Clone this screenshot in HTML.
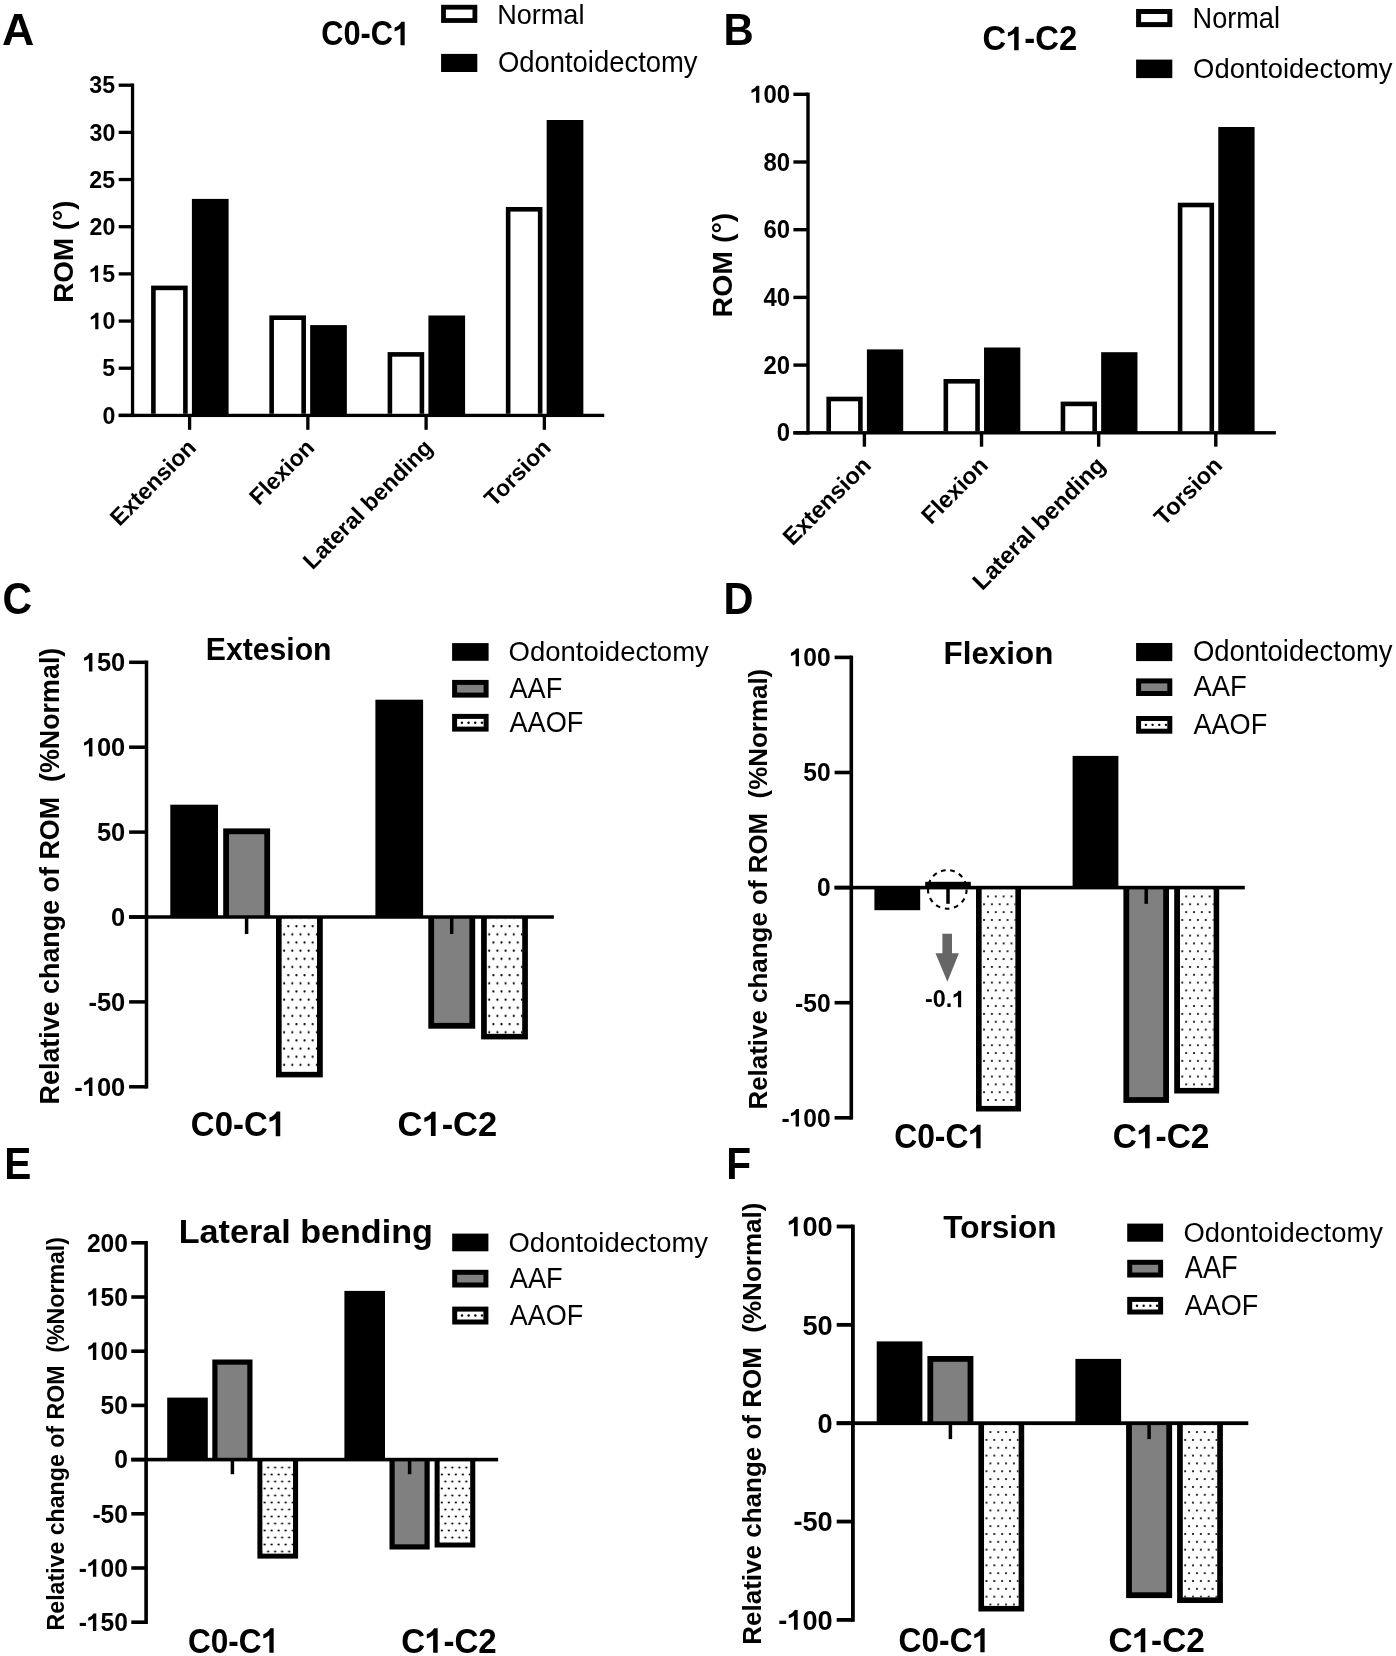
<!DOCTYPE html>
<html><head><meta charset="utf-8">
<style>
html,body{margin:0;padding:0;background:#fff;}
svg{display:block;filter:grayscale(100%);}
text{font-family:"Liberation Sans", sans-serif;}
</style></head><body>
<svg width="1396" height="1656" viewBox="0 0 1396 1656" shape-rendering="geometricPrecision">
<defs><pattern id="dotC0" patternUnits="userSpaceOnUse" x="284.1664" y="922.1408" width="8.160" height="16.320"><rect width="8.160" height="16.320" fill="#fff"/><circle cx="4.080" cy="4.080" r="1.1" fill="#000"/><circle cx="0" cy="12.240" r="1.1" fill="#000"/><circle cx="8.160" cy="12.240" r="1.1" fill="#000"/></pattern><pattern id="dotC1" patternUnits="userSpaceOnUse" x="489.2664" y="922.1408" width="8.160" height="16.320"><rect width="8.160" height="16.320" fill="#fff"/><circle cx="4.080" cy="4.080" r="1.1" fill="#000"/><circle cx="0" cy="12.240" r="1.1" fill="#000"/><circle cx="8.160" cy="12.240" r="1.1" fill="#000"/></pattern><pattern id="dotD0" patternUnits="userSpaceOnUse" x="984.0707" y="892.5329" width="7.830" height="15.660"><rect width="7.830" height="15.660" fill="#fff"/><circle cx="3.915" cy="3.915" r="1.1" fill="#000"/><circle cx="0" cy="11.745" r="1.1" fill="#000"/><circle cx="7.830" cy="11.745" r="1.1" fill="#000"/></pattern><pattern id="dotD1" patternUnits="userSpaceOnUse" x="1182.2707" y="892.5329" width="7.830" height="15.660"><rect width="7.830" height="15.660" fill="#fff"/><circle cx="3.915" cy="3.915" r="1.1" fill="#000"/><circle cx="0" cy="11.745" r="1.1" fill="#000"/><circle cx="7.830" cy="11.745" r="1.1" fill="#000"/></pattern><pattern id="dotE0" patternUnits="userSpaceOnUse" x="264.62999999999994" y="1464.01" width="7.000" height="14.000"><rect width="7.000" height="14.000" fill="#fff"/><circle cx="3.500" cy="3.500" r="1.1" fill="#000"/><circle cx="0" cy="10.500" r="1.1" fill="#000"/><circle cx="7.000" cy="10.500" r="1.1" fill="#000"/></pattern><pattern id="dotE1" patternUnits="userSpaceOnUse" x="441.83" y="1464.01" width="7.000" height="14.000"><rect width="7.000" height="14.000" fill="#fff"/><circle cx="3.500" cy="3.500" r="1.1" fill="#000"/><circle cx="0" cy="10.500" r="1.1" fill="#000"/><circle cx="7.000" cy="10.500" r="1.1" fill="#000"/></pattern><pattern id="dotF0" patternUnits="userSpaceOnUse" x="986.4735999999999" y="1428.1392" width="7.840" height="15.680"><rect width="7.840" height="15.680" fill="#fff"/><circle cx="3.920" cy="3.920" r="1.1" fill="#000"/><circle cx="0" cy="11.760" r="1.1" fill="#000"/><circle cx="7.840" cy="11.760" r="1.1" fill="#000"/></pattern><pattern id="dotF1" patternUnits="userSpaceOnUse" x="1185.1735999999999" y="1428.1392" width="7.840" height="15.680"><rect width="7.840" height="15.680" fill="#fff"/><circle cx="3.920" cy="3.920" r="1.1" fill="#000"/><circle cx="0" cy="11.760" r="1.1" fill="#000"/><circle cx="7.840" cy="11.760" r="1.1" fill="#000"/></pattern></defs>
<rect width="1396" height="1656" fill="#fff"/>
<g fill="#000">
<text transform="translate(1.89,44.80) scale(1.0221,1)" font-size="43.75" font-weight="bold" xml:space="preserve">A</text>
<text transform="translate(723.60,44.70) scale(0.9589,1)" font-size="43.61" font-weight="bold" xml:space="preserve">B</text>
<text transform="translate(2.62,613.67) scale(0.9243,1)" font-size="44.35" font-weight="bold" xml:space="preserve">C</text>
<text transform="translate(723.62,613.70) scale(0.9410,1)" font-size="44.19" font-weight="bold" xml:space="preserve">D</text>
<text transform="translate(4.28,1178.70) scale(0.9320,1)" font-size="43.61" font-weight="bold" xml:space="preserve">E</text>
<text transform="translate(726.27,1178.70) scale(0.9357,1)" font-size="43.61" font-weight="bold" xml:space="preserve">F</text>
<rect x="118.70" y="413.75" width="13.85" height="3.30" fill="#000"/>
<text transform="translate(115.35,423.63) scale(0.9700,1)" font-size="23.90" font-weight="bold" text-anchor="end" xml:space="preserve">0</text>
<rect x="118.70" y="366.58" width="13.85" height="3.30" fill="#000"/>
<text transform="translate(115.05,376.33) scale(0.9700,1)" font-size="23.90" font-weight="bold" text-anchor="end" xml:space="preserve">5</text>
<rect x="118.70" y="319.41" width="13.85" height="3.30" fill="#000"/>
<g transform="translate(115.35,329.28) scale(0.9700,1)"><text font-size="23.90" font-weight="bold" text-anchor="end" xml:space="preserve"> 0</text><path transform="translate(-26.58,0) scale(0.01167,-0.01167)" d="M780 0H500V1000Q320 870 110 820V1060Q400 1150 560 1409H780Z"/></g>
<rect x="118.70" y="272.24" width="13.85" height="3.30" fill="#000"/>
<g transform="translate(115.05,281.99) scale(0.9700,1)"><text font-size="23.90" font-weight="bold" text-anchor="end" xml:space="preserve"> 5</text><path transform="translate(-26.58,0) scale(0.01167,-0.01167)" d="M780 0H500V1000Q320 870 110 820V1060Q400 1150 560 1409H780Z"/></g>
<rect x="118.70" y="225.06" width="13.85" height="3.30" fill="#000"/>
<text transform="translate(115.35,234.94) scale(0.9700,1)" font-size="23.90" font-weight="bold" text-anchor="end" xml:space="preserve">20</text>
<rect x="118.70" y="177.89" width="13.85" height="3.30" fill="#000"/>
<text transform="translate(115.05,187.77) scale(0.9700,1)" font-size="23.90" font-weight="bold" text-anchor="end" xml:space="preserve">25</text>
<rect x="118.70" y="130.72" width="13.85" height="3.30" fill="#000"/>
<text transform="translate(115.35,140.58) scale(0.9700,1)" font-size="23.90" font-weight="bold" text-anchor="end" xml:space="preserve">30</text>
<rect x="118.70" y="83.55" width="13.85" height="3.30" fill="#000"/>
<text transform="translate(115.05,93.41) scale(0.9700,1)" font-size="23.90" font-weight="bold" text-anchor="end" xml:space="preserve">35</text>
<rect x="130.90" y="83.55" width="3.30" height="333.50" fill="#000"/>
<rect x="118.70" y="413.75" width="485.50" height="3.30" fill="#000"/>
<rect x="187.95" y="415.40" width="3.30" height="14.40" fill="#000"/>
<rect x="151.10" y="285.60" width="36.60" height="128.15" fill="#000"/>
<rect x="155.70" y="290.20" width="27.40" height="123.55" fill="#fff"/>
<rect x="191.90" y="198.90" width="36.70" height="216.50" fill="#000"/>
<rect x="306.20" y="415.40" width="3.30" height="14.40" fill="#000"/>
<rect x="269.35" y="315.40" width="36.60" height="98.35" fill="#000"/>
<rect x="273.95" y="320.00" width="27.40" height="93.75" fill="#fff"/>
<rect x="310.15" y="325.10" width="36.70" height="90.30" fill="#000"/>
<rect x="424.45" y="415.40" width="3.30" height="14.40" fill="#000"/>
<rect x="387.60" y="352.10" width="36.60" height="61.65" fill="#000"/>
<rect x="392.20" y="356.70" width="27.40" height="57.05" fill="#fff"/>
<rect x="428.40" y="315.50" width="36.70" height="99.90" fill="#000"/>
<rect x="542.70" y="415.40" width="3.30" height="14.40" fill="#000"/>
<rect x="505.85" y="207.00" width="36.60" height="206.75" fill="#000"/>
<rect x="510.45" y="211.60" width="27.40" height="202.15" fill="#fff"/>
<rect x="546.65" y="120.00" width="36.70" height="295.40" fill="#000"/>
<text transform="translate(197.60,449.00) rotate(-45)" font-size="23.10" font-weight="bold" text-anchor="end" xml:space="preserve">Extension</text>
<text transform="translate(315.85,449.00) rotate(-45)" font-size="23.10" font-weight="bold" text-anchor="end" xml:space="preserve">Flexion</text>
<text transform="translate(434.10,449.00) rotate(-45)" font-size="23.10" font-weight="bold" text-anchor="end" xml:space="preserve">Lateral bending</text>
<text transform="translate(552.35,449.00) rotate(-45)" font-size="23.10" font-weight="bold" text-anchor="end" xml:space="preserve">Torsion</text>
<text transform="translate(73.10,302.76) rotate(-90)" font-size="27.81" font-weight="bold" xml:space="preserve">ROM (°)</text>
<g transform="translate(321.24,45.36) scale(0.8919,1)"><text font-size="34.46" font-weight="bold" xml:space="preserve">C0-C </text><path transform="translate(80.42,0) scale(0.01683,-0.01683)" d="M780 0H500V1000Q320 870 110 820V1060Q400 1150 560 1409H780Z"/></g>
<rect x="441.10" y="4.80" width="36.20" height="18.10" fill="#000"/>
<rect x="445.90" y="9.60" width="26.60" height="8.50" fill="#fff"/>
<rect x="441.10" y="53.90" width="36.20" height="18.10" fill="#000"/>
<text transform="translate(497.18,23.52) scale(0.9522,1)" font-size="28.46" font-weight="normal" xml:space="preserve">Normal</text>
<text transform="translate(497.90,72.16) scale(0.9577,1)" font-size="28.64" font-weight="normal" xml:space="preserve">Odontoidectomy</text>
<rect x="793.40" y="431.10" width="14.60" height="3.40" fill="#000"/>
<text transform="translate(790.08,441.37) scale(0.9600,1)" font-size="24.90" font-weight="bold" text-anchor="end" xml:space="preserve">0</text>
<rect x="793.40" y="363.40" width="14.60" height="3.40" fill="#000"/>
<text transform="translate(790.08,373.67) scale(0.9600,1)" font-size="24.90" font-weight="bold" text-anchor="end" xml:space="preserve">20</text>
<rect x="793.40" y="295.70" width="14.60" height="3.40" fill="#000"/>
<text transform="translate(790.08,305.97) scale(0.9600,1)" font-size="24.90" font-weight="bold" text-anchor="end" xml:space="preserve">40</text>
<rect x="793.40" y="228.00" width="14.60" height="3.40" fill="#000"/>
<text transform="translate(790.08,238.27) scale(0.9600,1)" font-size="24.90" font-weight="bold" text-anchor="end" xml:space="preserve">60</text>
<rect x="793.40" y="160.30" width="14.60" height="3.40" fill="#000"/>
<text transform="translate(790.08,170.57) scale(0.9600,1)" font-size="24.90" font-weight="bold" text-anchor="end" xml:space="preserve">80</text>
<rect x="793.40" y="92.60" width="14.60" height="3.40" fill="#000"/>
<g transform="translate(790.08,102.87) scale(0.9600,1)"><text font-size="24.90" font-weight="bold" text-anchor="end" xml:space="preserve"> 00</text><path transform="translate(-41.54,0) scale(0.01216,-0.01216)" d="M780 0H500V1000Q320 870 110 820V1060Q400 1150 560 1409H780Z"/></g>
<rect x="806.30" y="92.60" width="3.40" height="341.90" fill="#000"/>
<rect x="793.40" y="431.10" width="482.50" height="3.40" fill="#000"/>
<rect x="862.70" y="432.80" width="3.40" height="13.90" fill="#000"/>
<rect x="826.40" y="396.70" width="36.30" height="34.40" fill="#000"/>
<rect x="831.00" y="401.30" width="27.10" height="29.80" fill="#fff"/>
<rect x="866.90" y="349.40" width="36.30" height="83.40" fill="#000"/>
<rect x="979.83" y="432.80" width="3.40" height="13.90" fill="#000"/>
<rect x="943.53" y="379.00" width="36.30" height="52.10" fill="#000"/>
<rect x="948.13" y="383.60" width="27.10" height="47.50" fill="#fff"/>
<rect x="984.03" y="347.50" width="36.30" height="85.30" fill="#000"/>
<rect x="1096.96" y="432.80" width="3.40" height="13.90" fill="#000"/>
<rect x="1060.66" y="401.60" width="36.30" height="29.50" fill="#000"/>
<rect x="1065.26" y="406.20" width="27.10" height="24.90" fill="#fff"/>
<rect x="1101.16" y="352.20" width="36.30" height="80.60" fill="#000"/>
<rect x="1214.09" y="432.80" width="3.40" height="13.90" fill="#000"/>
<rect x="1177.79" y="202.70" width="36.30" height="228.40" fill="#000"/>
<rect x="1182.39" y="207.30" width="27.10" height="223.80" fill="#fff"/>
<rect x="1218.29" y="127.00" width="36.30" height="305.80" fill="#000"/>
<text transform="translate(872.40,466.70) rotate(-45)" font-size="23.65" font-weight="bold" text-anchor="end" xml:space="preserve">Extension</text>
<text transform="translate(989.53,466.70) rotate(-45)" font-size="23.65" font-weight="bold" text-anchor="end" xml:space="preserve">Flexion</text>
<text transform="translate(1106.66,466.70) rotate(-45)" font-size="23.65" font-weight="bold" text-anchor="end" xml:space="preserve">Lateral bending</text>
<text transform="translate(1223.79,466.70) rotate(-45)" font-size="23.65" font-weight="bold" text-anchor="end" xml:space="preserve">Torsion</text>
<text transform="translate(731.90,317.41) rotate(-90)" font-size="28.48" font-weight="bold" xml:space="preserve">ROM (°)</text>
<g transform="translate(982.46,50.36) scale(0.9515,1)"><text font-size="34.46" font-weight="bold" xml:space="preserve">C -C2</text><path transform="translate(24.89,0) scale(0.01683,-0.01683)" d="M780 0H500V1000Q320 870 110 820V1060Q400 1150 560 1409H780Z"/></g>
<rect x="1136.10" y="9.00" width="36.20" height="18.10" fill="#000"/>
<rect x="1141.10" y="14.00" width="26.20" height="8.10" fill="#fff"/>
<rect x="1136.10" y="59.60" width="36.20" height="18.50" fill="#000"/>
<text transform="translate(1192.57,27.92) scale(0.9489,1)" font-size="28.60" font-weight="normal" xml:space="preserve">Normal</text>
<text transform="translate(1193.10,77.94) scale(0.9713,1)" font-size="28.21" font-weight="normal" xml:space="preserve">Odontoidectomy</text>
<rect x="129.10" y="660.55" width="17.40" height="3.50" fill="#000"/>
<g transform="translate(125.25,671.49) scale(0.9550,1)"><text font-size="26.70" font-weight="bold" text-anchor="end" xml:space="preserve"> 50</text><path transform="translate(-44.55,0) scale(0.01304,-0.01304)" d="M780 0H500V1000Q320 870 110 820V1060Q400 1150 560 1409H780Z"/></g>
<rect x="129.10" y="745.45" width="17.40" height="3.50" fill="#000"/>
<g transform="translate(125.25,756.39) scale(0.9550,1)"><text font-size="26.70" font-weight="bold" text-anchor="end" xml:space="preserve"> 00</text><path transform="translate(-44.55,0) scale(0.01304,-0.01304)" d="M780 0H500V1000Q320 870 110 820V1060Q400 1150 560 1409H780Z"/></g>
<rect x="129.10" y="830.35" width="17.40" height="3.50" fill="#000"/>
<text transform="translate(125.25,841.29) scale(0.9550,1)" font-size="26.70" font-weight="bold" text-anchor="end" xml:space="preserve">50</text>
<rect x="129.10" y="915.25" width="17.40" height="3.50" fill="#000"/>
<text transform="translate(125.25,926.19) scale(0.9550,1)" font-size="26.70" font-weight="bold" text-anchor="end" xml:space="preserve">0</text>
<rect x="129.10" y="1000.15" width="17.40" height="3.50" fill="#000"/>
<text transform="translate(125.25,1011.09) scale(0.9550,1)" font-size="26.70" font-weight="bold" text-anchor="end" xml:space="preserve">-50</text>
<rect x="129.10" y="1085.05" width="17.40" height="3.50" fill="#000"/>
<g transform="translate(125.25,1095.99) scale(0.9550,1)"><text font-size="26.70" font-weight="bold" text-anchor="end" xml:space="preserve">- 00</text><path transform="translate(-44.55,0) scale(0.01304,-0.01304)" d="M780 0H500V1000Q320 870 110 820V1060Q400 1150 560 1409H780Z"/></g>
<rect x="144.75" y="660.55" width="3.50" height="428.00" fill="#000"/>
<rect x="170.30" y="804.70" width="47.70" height="112.30" fill="#000"/>
<rect x="223.20" y="828.40" width="46.90" height="88.60" fill="#000"/>
<rect x="229.00" y="834.20" width="35.30" height="82.80" fill="#808080"/>
<rect x="276.00" y="917.00" width="46.80" height="160.40" fill="#000"/>
<rect x="281.80" y="917.00" width="35.20" height="154.60" fill="#fff"/>
<rect x="281.80" y="919.40" width="35.20" height="152.20" fill="url(#dotC0)"/>
<rect x="244.85" y="917.00" width="3.50" height="17.00" fill="#000"/>
<rect x="375.40" y="699.70" width="47.70" height="217.30" fill="#000"/>
<rect x="428.30" y="917.00" width="46.90" height="111.70" fill="#000"/>
<rect x="434.10" y="917.00" width="35.30" height="105.90" fill="#808080"/>
<rect x="481.10" y="917.00" width="46.80" height="122.40" fill="#000"/>
<rect x="486.90" y="917.00" width="35.20" height="116.60" fill="#fff"/>
<rect x="486.90" y="919.40" width="35.20" height="114.20" fill="url(#dotC1)"/>
<rect x="449.95" y="917.00" width="3.50" height="17.00" fill="#000"/>
<rect x="129.10" y="915.25" width="424.80" height="3.50" fill="#000"/>
<g transform="translate(190.85,1136.15) scale(0.9180,1)"><text font-size="35.88" font-weight="bold" xml:space="preserve">C0-C </text><path transform="translate(83.71,0) scale(0.01752,-0.01752)" d="M780 0H500V1000Q320 870 110 820V1060Q400 1150 560 1409H780Z"/></g>
<g transform="translate(397.59,1136.06) scale(0.9761,1)"><text font-size="35.31" font-weight="bold" xml:space="preserve">C -C2</text><path transform="translate(25.50,0) scale(0.01724,-0.01724)" d="M780 0H500V1000Q320 870 110 820V1060Q400 1150 560 1409H780Z"/></g>
<text transform="translate(59.00,1104.40) rotate(-90)" font-size="26.86" font-weight="bold" xml:space="preserve">Relative change of ROM  (%Normal)</text>
<text transform="translate(205.78,659.50) scale(0.9807,1)" font-size="30.77" font-weight="bold" xml:space="preserve">Extesion</text>
<rect x="452.10" y="643.10" width="36.50" height="17.70" fill="#000"/>
<rect x="452.10" y="679.90" width="36.50" height="17.70" fill="#000"/>
<rect x="457.10" y="684.90" width="26.50" height="7.70" fill="#808080"/>
<rect x="452.10" y="713.90" width="36.50" height="17.70" fill="#000"/>
<rect x="457.10" y="718.90" width="26.50" height="7.70" fill="#fff"/>
<circle cx="461.90" cy="722.75" r="1.2" fill="#000"/>
<circle cx="468.57" cy="722.75" r="1.2" fill="#000"/>
<circle cx="475.24" cy="722.75" r="1.2" fill="#000"/>
<circle cx="481.91" cy="722.75" r="1.2" fill="#000"/>
<text transform="translate(508.50,661.44) scale(0.9752,1)" font-size="28.21" font-weight="normal" xml:space="preserve">Odontoidectomy</text>
<text transform="translate(509.45,698.00) scale(0.9163,1)" font-size="29.65" font-weight="normal" xml:space="preserve">AAF</text>
<text transform="translate(509.45,731.92) scale(0.9425,1)" font-size="28.81" font-weight="normal" xml:space="preserve">AAOF</text>
<rect x="834.60" y="655.60" width="16.70" height="3.60" fill="#000"/>
<g transform="translate(830.61,666.21) scale(0.9600,1)"><text font-size="25.60" font-weight="bold" text-anchor="end" xml:space="preserve"> 00</text><path transform="translate(-42.71,0) scale(0.01250,-0.01250)" d="M780 0H500V1000Q320 870 110 820V1060Q400 1150 560 1409H780Z"/></g>
<rect x="834.60" y="770.70" width="16.70" height="3.60" fill="#000"/>
<text transform="translate(830.61,781.31) scale(0.9600,1)" font-size="25.60" font-weight="bold" text-anchor="end" xml:space="preserve">50</text>
<rect x="834.60" y="885.80" width="16.70" height="3.60" fill="#000"/>
<text transform="translate(830.61,896.41) scale(0.9600,1)" font-size="25.60" font-weight="bold" text-anchor="end" xml:space="preserve">0</text>
<rect x="834.60" y="1000.90" width="16.70" height="3.60" fill="#000"/>
<text transform="translate(830.61,1011.51) scale(0.9600,1)" font-size="25.60" font-weight="bold" text-anchor="end" xml:space="preserve">-50</text>
<rect x="834.60" y="1116.00" width="16.70" height="3.60" fill="#000"/>
<g transform="translate(830.61,1126.61) scale(0.9600,1)"><text font-size="25.60" font-weight="bold" text-anchor="end" xml:space="preserve">- 00</text><path transform="translate(-42.71,0) scale(0.01250,-0.01250)" d="M780 0H500V1000Q320 870 110 820V1060Q400 1150 560 1409H780Z"/></g>
<rect x="849.50" y="655.60" width="3.60" height="464.00" fill="#000"/>
<rect x="874.40" y="887.60" width="45.80" height="22.60" fill="#000"/>
<rect x="925.20" y="881.80" width="45.60" height="5.80" fill="#000"/>
<rect x="976.00" y="887.60" width="45.00" height="223.90" fill="#000"/>
<rect x="981.80" y="887.60" width="33.40" height="218.10" fill="#fff"/>
<rect x="981.80" y="890.00" width="33.40" height="215.70" fill="url(#dotD0)"/>
<rect x="946.25" y="887.60" width="3.50" height="16.20" fill="#000"/>
<rect x="1072.60" y="755.90" width="45.80" height="131.70" fill="#000"/>
<rect x="1123.40" y="887.60" width="45.60" height="215.30" fill="#000"/>
<rect x="1129.20" y="887.60" width="34.00" height="209.50" fill="#808080"/>
<rect x="1174.20" y="887.60" width="45.00" height="205.90" fill="#000"/>
<rect x="1180.00" y="887.60" width="33.40" height="200.10" fill="#fff"/>
<rect x="1180.00" y="890.00" width="33.40" height="197.70" fill="url(#dotD1)"/>
<rect x="1144.45" y="887.60" width="3.50" height="16.20" fill="#000"/>
<rect x="834.60" y="885.80" width="410.20" height="3.60" fill="#000"/>
<g transform="translate(894.19,1148.17) scale(0.9314,1)"><text font-size="34.18" font-weight="bold" xml:space="preserve">C0-C </text><path transform="translate(79.76,0) scale(0.01669,-0.01669)" d="M780 0H500V1000Q320 870 110 820V1060Q400 1150 560 1409H780Z"/></g>
<g transform="translate(1112.73,1148.17) scale(0.9792,1)"><text font-size="34.18" font-weight="bold" xml:space="preserve">C -C2</text><path transform="translate(24.68,0) scale(0.01669,-0.01669)" d="M780 0H500V1000Q320 870 110 820V1060Q400 1150 560 1409H780Z"/></g>
<text transform="translate(766.70,1109.53) rotate(-90)" font-size="25.93" font-weight="bold" xml:space="preserve">Relative change of ROM  (%Normal)</text>
<text transform="translate(943.60,664.48) scale(0.9714,1)" font-size="32.27" font-weight="bold" xml:space="preserve">Flexion</text>
<rect x="1136.10" y="643.00" width="36.20" height="18.10" fill="#000"/>
<rect x="1136.10" y="678.40" width="36.20" height="17.60" fill="#000"/>
<rect x="1141.10" y="683.40" width="26.20" height="7.60" fill="#808080"/>
<rect x="1136.10" y="716.00" width="36.20" height="17.70" fill="#000"/>
<rect x="1141.10" y="721.00" width="26.20" height="7.70" fill="#fff"/>
<circle cx="1145.90" cy="724.85" r="1.2" fill="#000"/>
<circle cx="1152.57" cy="724.85" r="1.2" fill="#000"/>
<circle cx="1159.24" cy="724.85" r="1.2" fill="#000"/>
<circle cx="1165.91" cy="724.85" r="1.2" fill="#000"/>
<text transform="translate(1192.90,661.46) scale(0.9577,1)" font-size="28.64" font-weight="normal" xml:space="preserve">Odontoidectomy</text>
<text transform="translate(1193.45,696.40) scale(0.9252,1)" font-size="29.65" font-weight="normal" xml:space="preserve">AAF</text>
<text transform="translate(1193.45,733.81) scale(0.9143,1)" font-size="29.66" font-weight="normal" xml:space="preserve">AAOF</text>
<rect x="131.30" y="1241.00" width="14.80" height="3.60" fill="#000"/>
<text transform="translate(127.91,1251.61) scale(0.9600,1)" font-size="25.60" font-weight="bold" text-anchor="end" xml:space="preserve">200</text>
<rect x="131.30" y="1295.20" width="14.80" height="3.60" fill="#000"/>
<g transform="translate(127.91,1305.81) scale(0.9600,1)"><text font-size="25.60" font-weight="bold" text-anchor="end" xml:space="preserve"> 50</text><path transform="translate(-42.71,0) scale(0.01250,-0.01250)" d="M780 0H500V1000Q320 870 110 820V1060Q400 1150 560 1409H780Z"/></g>
<rect x="131.30" y="1349.40" width="14.80" height="3.60" fill="#000"/>
<g transform="translate(127.91,1360.01) scale(0.9600,1)"><text font-size="25.60" font-weight="bold" text-anchor="end" xml:space="preserve"> 00</text><path transform="translate(-42.71,0) scale(0.01250,-0.01250)" d="M780 0H500V1000Q320 870 110 820V1060Q400 1150 560 1409H780Z"/></g>
<rect x="131.30" y="1403.60" width="14.80" height="3.60" fill="#000"/>
<text transform="translate(127.91,1414.21) scale(0.9600,1)" font-size="25.60" font-weight="bold" text-anchor="end" xml:space="preserve">50</text>
<rect x="131.30" y="1457.80" width="14.80" height="3.60" fill="#000"/>
<text transform="translate(127.91,1468.41) scale(0.9600,1)" font-size="25.60" font-weight="bold" text-anchor="end" xml:space="preserve">0</text>
<rect x="131.30" y="1512.00" width="14.80" height="3.60" fill="#000"/>
<text transform="translate(127.91,1522.61) scale(0.9600,1)" font-size="25.60" font-weight="bold" text-anchor="end" xml:space="preserve">-50</text>
<rect x="131.30" y="1566.20" width="14.80" height="3.60" fill="#000"/>
<g transform="translate(127.91,1576.81) scale(0.9600,1)"><text font-size="25.60" font-weight="bold" text-anchor="end" xml:space="preserve">- 00</text><path transform="translate(-42.71,0) scale(0.01250,-0.01250)" d="M780 0H500V1000Q320 870 110 820V1060Q400 1150 560 1409H780Z"/></g>
<rect x="131.30" y="1620.40" width="14.80" height="3.60" fill="#000"/>
<g transform="translate(127.91,1631.01) scale(0.9600,1)"><text font-size="25.60" font-weight="bold" text-anchor="end" xml:space="preserve">- 50</text><path transform="translate(-42.71,0) scale(0.01250,-0.01250)" d="M780 0H500V1000Q320 870 110 820V1060Q400 1150 560 1409H780Z"/></g>
<rect x="144.30" y="1241.00" width="3.60" height="383.00" fill="#000"/>
<rect x="167.20" y="1397.60" width="40.60" height="62.00" fill="#000"/>
<rect x="212.30" y="1359.50" width="40.20" height="100.10" fill="#000"/>
<rect x="217.50" y="1364.70" width="29.80" height="94.90" fill="#808080"/>
<rect x="257.40" y="1459.60" width="40.70" height="99.00" fill="#000"/>
<rect x="262.60" y="1459.60" width="30.30" height="93.80" fill="#fff"/>
<rect x="262.60" y="1462.00" width="30.30" height="91.40" fill="url(#dotE0)"/>
<rect x="230.65" y="1459.60" width="3.50" height="14.60" fill="#000"/>
<rect x="344.40" y="1290.90" width="40.60" height="168.70" fill="#000"/>
<rect x="389.50" y="1459.60" width="40.20" height="89.90" fill="#000"/>
<rect x="394.70" y="1459.60" width="29.80" height="84.70" fill="#808080"/>
<rect x="434.60" y="1459.60" width="40.70" height="87.90" fill="#000"/>
<rect x="439.80" y="1459.60" width="30.30" height="82.70" fill="#fff"/>
<rect x="439.80" y="1462.00" width="30.30" height="80.30" fill="url(#dotE1)"/>
<rect x="407.85" y="1459.60" width="3.50" height="14.60" fill="#000"/>
<rect x="131.30" y="1457.80" width="366.80" height="3.60" fill="#000"/>
<g transform="translate(188.01,1652.75) scale(0.8865,1)"><text font-size="35.59" font-weight="bold" xml:space="preserve">C0-C </text><path transform="translate(83.06,0) scale(0.01738,-0.01738)" d="M780 0H500V1000Q320 870 110 820V1060Q400 1150 560 1409H780Z"/></g>
<g transform="translate(401.14,1652.75) scale(0.9303,1)"><text font-size="35.59" font-weight="bold" xml:space="preserve">C -C2</text><path transform="translate(25.70,0) scale(0.01738,-0.01738)" d="M780 0H500V1000Q320 870 110 820V1060Q400 1150 560 1409H780Z"/></g>
<text transform="translate(63.70,1630.45) rotate(-90)" font-size="23.15" font-weight="bold" xml:space="preserve">Relative change of ROM  (%Normal)</text>
<text transform="translate(178.72,1243.06) scale(1.0284,1)" font-size="33.21" font-weight="bold" xml:space="preserve">Lateral bending</text>
<rect x="452.20" y="1233.60" width="36.20" height="17.70" fill="#000"/>
<rect x="452.20" y="1269.80" width="36.20" height="17.70" fill="#000"/>
<rect x="457.20" y="1274.80" width="26.20" height="7.70" fill="#808080"/>
<rect x="452.20" y="1306.60" width="36.20" height="17.90" fill="#000"/>
<rect x="457.20" y="1311.60" width="26.20" height="7.90" fill="#fff"/>
<circle cx="462.00" cy="1315.55" r="1.2" fill="#000"/>
<circle cx="468.67" cy="1315.55" r="1.2" fill="#000"/>
<circle cx="475.34" cy="1315.55" r="1.2" fill="#000"/>
<circle cx="482.01" cy="1315.55" r="1.2" fill="#000"/>
<text transform="translate(508.50,1251.68) scale(0.9939,1)" font-size="27.57" font-weight="normal" xml:space="preserve">Odontoidectomy</text>
<text transform="translate(509.75,1287.90) scale(0.9092,1)" font-size="29.94" font-weight="normal" xml:space="preserve">AAF</text>
<text transform="translate(509.75,1325.01) scale(0.9238,1)" font-size="29.24" font-weight="normal" xml:space="preserve">AAOF</text>
<rect x="836.70" y="1224.60" width="16.20" height="3.80" fill="#000"/>
<g transform="translate(832.72,1236.31) scale(0.9550,1)"><text font-size="28.50" font-weight="bold" text-anchor="end" xml:space="preserve"> 00</text><path transform="translate(-47.55,0) scale(0.01392,-0.01392)" d="M780 0H500V1000Q320 870 110 820V1060Q400 1150 560 1409H780Z"/></g>
<rect x="836.70" y="1322.95" width="16.20" height="3.80" fill="#000"/>
<text transform="translate(832.72,1334.66) scale(0.9550,1)" font-size="28.50" font-weight="bold" text-anchor="end" xml:space="preserve">50</text>
<rect x="836.70" y="1421.30" width="16.20" height="3.80" fill="#000"/>
<text transform="translate(832.72,1433.01) scale(0.9550,1)" font-size="28.50" font-weight="bold" text-anchor="end" xml:space="preserve">0</text>
<rect x="836.70" y="1519.65" width="16.20" height="3.80" fill="#000"/>
<text transform="translate(832.72,1531.36) scale(0.9550,1)" font-size="28.50" font-weight="bold" text-anchor="end" xml:space="preserve">-50</text>
<rect x="836.70" y="1618.00" width="16.20" height="3.80" fill="#000"/>
<g transform="translate(832.72,1629.71) scale(0.9550,1)"><text font-size="28.50" font-weight="bold" text-anchor="end" xml:space="preserve">- 00</text><path transform="translate(-47.55,0) scale(0.01392,-0.01392)" d="M780 0H500V1000Q320 870 110 820V1060Q400 1150 560 1409H780Z"/></g>
<rect x="851.00" y="1224.60" width="3.80" height="397.20" fill="#000"/>
<rect x="876.70" y="1341.40" width="45.70" height="81.80" fill="#000"/>
<rect x="927.40" y="1356.00" width="46.00" height="67.20" fill="#000"/>
<rect x="933.20" y="1361.80" width="34.40" height="61.40" fill="#808080"/>
<rect x="978.40" y="1423.20" width="45.80" height="188.30" fill="#000"/>
<rect x="984.20" y="1423.20" width="34.20" height="182.50" fill="#fff"/>
<rect x="984.20" y="1425.60" width="34.20" height="180.10" fill="url(#dotF0)"/>
<rect x="948.65" y="1423.20" width="3.50" height="15.90" fill="#000"/>
<rect x="1075.40" y="1358.90" width="45.70" height="64.30" fill="#000"/>
<rect x="1126.10" y="1423.20" width="46.00" height="174.90" fill="#000"/>
<rect x="1131.90" y="1423.20" width="34.40" height="169.10" fill="#808080"/>
<rect x="1177.10" y="1423.20" width="45.80" height="179.80" fill="#000"/>
<rect x="1182.90" y="1423.20" width="34.20" height="174.00" fill="#fff"/>
<rect x="1182.90" y="1425.60" width="34.20" height="171.60" fill="url(#dotF1)"/>
<rect x="1147.35" y="1423.20" width="3.50" height="15.90" fill="#000"/>
<rect x="836.70" y="1421.30" width="411.60" height="3.80" fill="#000"/>
<g transform="translate(898.60,1652.16) scale(0.9122,1)"><text font-size="34.75" font-weight="bold" xml:space="preserve">C0-C </text><path transform="translate(81.08,0) scale(0.01697,-0.01697)" d="M780 0H500V1000Q320 870 110 820V1060Q400 1150 560 1409H780Z"/></g>
<g transform="translate(1108.53,1652.16) scale(0.9592,1)"><text font-size="34.75" font-weight="bold" xml:space="preserve">C -C2</text><path transform="translate(25.09,0) scale(0.01697,-0.01697)" d="M780 0H500V1000Q320 870 110 820V1060Q400 1150 560 1409H780Z"/></g>
<text transform="translate(760.60,1644.74) rotate(-90)" font-size="26.01" font-weight="bold" xml:space="preserve">Relative change of ROM  (%Normal)</text>
<text transform="translate(943.25,1237.98) scale(0.9779,1)" font-size="32.27" font-weight="bold" xml:space="preserve">Torsion</text>
<rect x="1127.20" y="1223.60" width="35.90" height="18.10" fill="#000"/>
<rect x="1127.20" y="1259.80" width="35.90" height="17.70" fill="#000"/>
<rect x="1132.20" y="1264.80" width="25.90" height="7.70" fill="#808080"/>
<rect x="1127.20" y="1296.90" width="35.90" height="17.60" fill="#000"/>
<rect x="1132.20" y="1301.90" width="25.90" height="7.60" fill="#fff"/>
<circle cx="1137.00" cy="1305.70" r="1.2" fill="#000"/>
<circle cx="1143.67" cy="1305.70" r="1.2" fill="#000"/>
<circle cx="1150.34" cy="1305.70" r="1.2" fill="#000"/>
<circle cx="1157.01" cy="1305.70" r="1.2" fill="#000"/>
<text transform="translate(1183.50,1241.99) scale(0.9787,1)" font-size="28.00" font-weight="normal" xml:space="preserve">Odontoidectomy</text>
<text transform="translate(1184.75,1278.30) scale(0.8918,1)" font-size="30.52" font-weight="normal" xml:space="preserve">AAF</text>
<text transform="translate(1184.75,1315.01) scale(0.9238,1)" font-size="29.24" font-weight="normal" xml:space="preserve">AAOF</text>
<circle cx="947.3" cy="889.4" r="19.3" fill="none" stroke="#000" stroke-width="2.1" stroke-dasharray="4.66 4.67"/>
<path d="M942.4 933.8 H952 V953.2 H958.9 L947.4 981.8 L935.5 953.2 H942.4 Z" fill="#666"/>
<g transform="translate(924.99,1007.36) scale(0.9618,1)"><text font-size="24.29" font-weight="bold" xml:space="preserve">-0. </text><path transform="translate(28.35,0) scale(0.01186,-0.01186)" d="M780 0H500V1000Q320 870 110 820V1060Q400 1150 560 1409H780Z"/></g>
</g>
</svg>
</body></html>
